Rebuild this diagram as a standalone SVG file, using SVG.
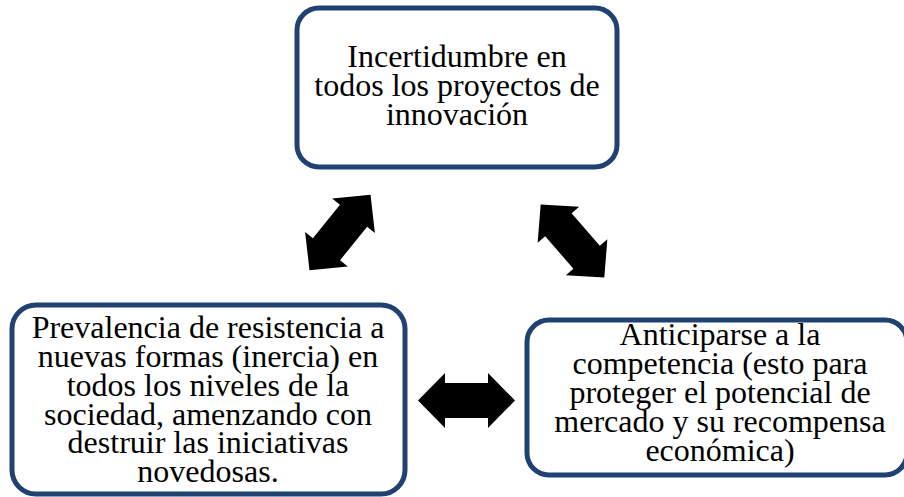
<svg xmlns="http://www.w3.org/2000/svg" width="904" height="497" viewBox="0 0 904 497">
<style>
.box{fill:#ffffff;stroke:#1f4273;stroke-width:5}
.t{font-family:"Liberation Serif","Times New Roman",serif;font-size:32px;fill:#000;text-anchor:middle}
.arr{fill:#000}
</style>
<defs>
<polygon id="dbl" points="-48.5,0 -21.5,-27.5 -21.5,-17.5 21.5,-17.5 21.5,-27.5 48.5,0 21.5,27.5 21.5,17.5 -21.5,17.5 -21.5,27.5"/>
</defs>
<rect width="904" height="497" fill="#ffffff"/>
<g id="connectors">
<use href="#dbl" class="arr" transform="translate(340,232.5) rotate(-51)"/>
<use href="#dbl" class="arr" transform="translate(572.5,241) rotate(49)"/>
<use href="#dbl" class="arr" transform="translate(466.5,400.5)"/>
</g>
<g id="node-top">
<rect class="box" x="297" y="8" width="320" height="159" rx="22"/>
<text class="t" x="457" y="67">Incertidumbre en</text>
<text class="t" x="457" y="96">todos los proyectos de</text>
<text class="t" x="457" y="125">innovación</text>
</g>
<g id="node-left">
<rect class="box" x="12" y="305" width="393" height="189" rx="24"/>
<text class="t" x="208" y="338">Prevalencia de resistencia a</text>
<text class="t" x="208" y="367">nuevas formas (inercia) en</text>
<text class="t" x="208" y="396">todos los niveles de la</text>
<text class="t" x="208" y="425">sociedad, amenzando con</text>
<text class="t" x="208" y="453">destruir las iniciativas</text>
<text class="t" x="208" y="482">novedosas.</text>
</g>
<g id="node-right">
<rect class="box" x="527" y="320" width="380" height="155" rx="22"/>
<text class="t" x="720" y="345">Anticiparse a la</text>
<text class="t" x="720" y="374">competencia (esto para</text>
<text class="t" x="720" y="403">proteger el potencial de</text>
<text class="t" x="720" y="432">mercado y su recompensa</text>
<text class="t" x="720" y="461">económica)</text>
</g>
</svg>
